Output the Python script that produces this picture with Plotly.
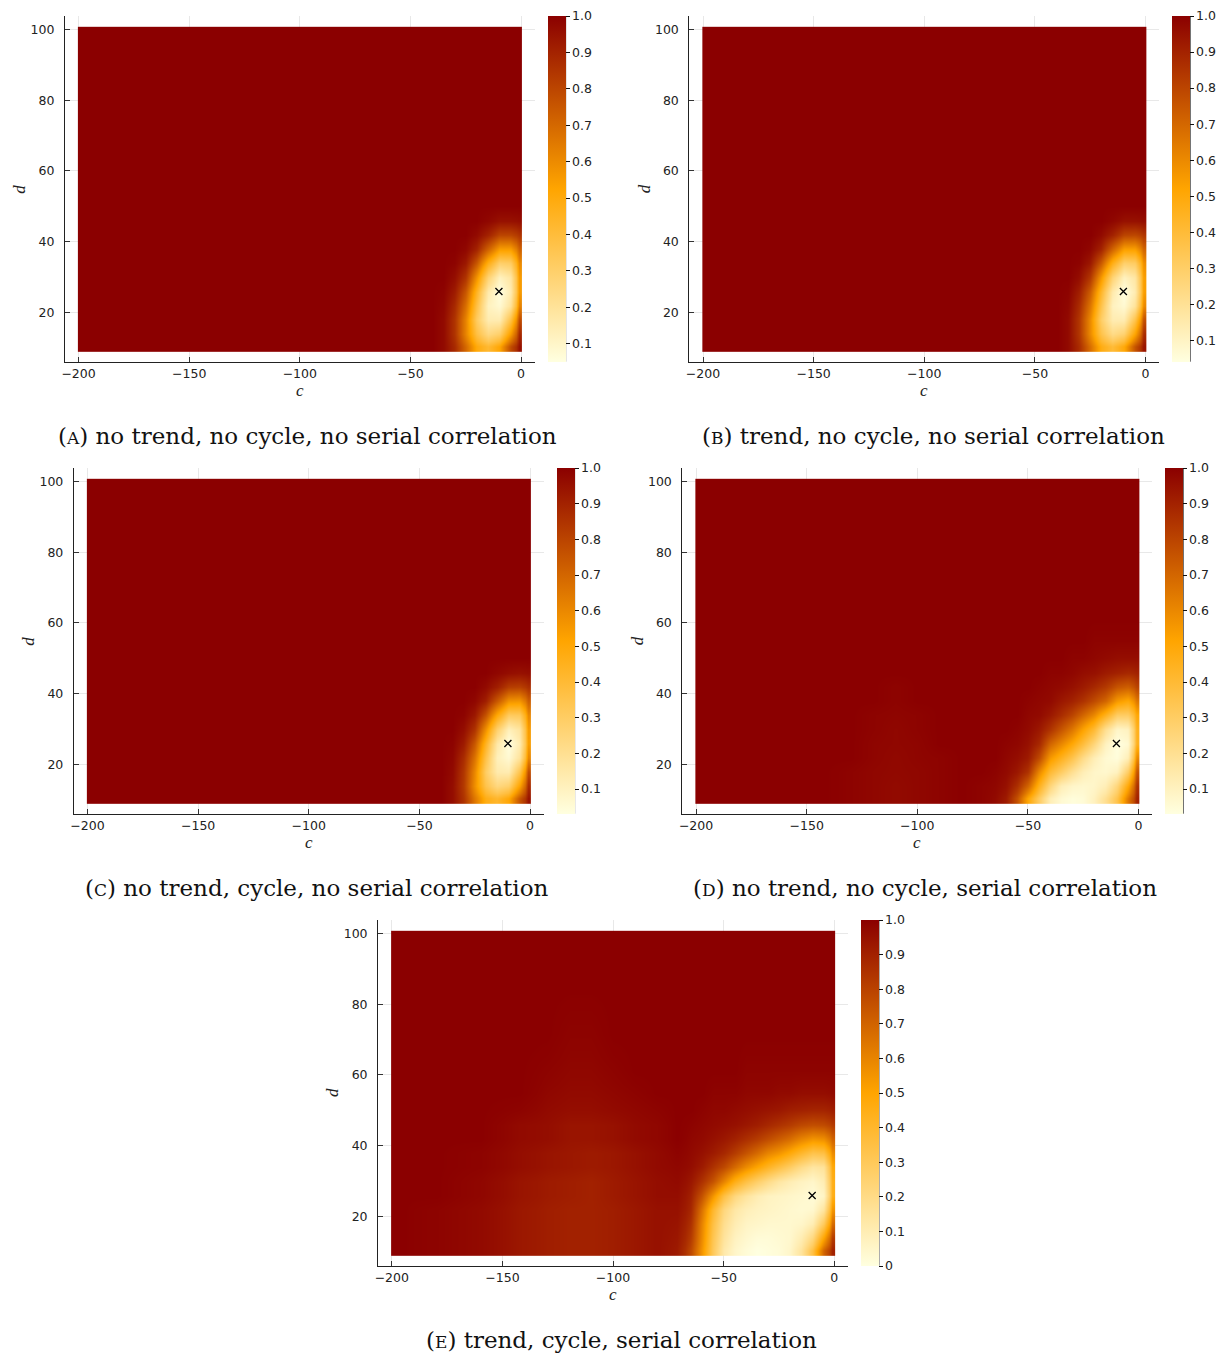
import plotly.graph_objects as go

W, H = 1225, 1357

# ---------------- data ----------------
c_vals = [-200, -180, -160, -140, -130, -120, -110, -100, -90, -80, -70, -65, -60,
          -55, -50, -45, -40, -35, -30, -25, -20, -15, -10, -5, 0]
d_vals = [10, 14, 18, 22, 26, 30, 34, 38, 42, 46, 50, 55, 60, 70, 85, 100]

x_ticks = [-200, -150, -100, -50, 0]
y_ticks = [20, 40, 60, 80, 100]
cb_ticks = [0.1, 0.2, 0.3, 0.4, 0.5, 0.6, 0.7, 0.8, 0.9, 1.0]
cb_labels = ["0.1", "0.2", "0.3", "0.4", "0.5", "0.6", "0.7", "0.8", "0.9", "1.0"]
cb_ticks_e = [0.0, 0.1, 0.2, 0.3, 0.4, 0.5, 0.6, 0.7, 0.8, 0.9, 1.0]
cb_labels_e = ["0", "0.1", "0.2", "0.3", "0.4", "0.5", "0.6", "0.7", "0.8", "0.9", "1.0"]

true_c = [-10]
true_d = [26]

z_a = [
    [1, 1, 1, 1, 1, 1, 1, 1, 1, 1, 1, 1, 1, 1, 1, 1, 1, .97, .88, .70, .50, .42, .52, .78, .95],
    [1, 1, 1, 1, 1, 1, 1, 1, 1, 1, 1, 1, 1, 1, 1, 1, 1, .97, .85, .62, .38, .25, .30, .55, .88],
    [1, 1, 1, 1, 1, 1, 1, 1, 1, 1, 1, 1, 1, 1, 1, 1, 1, .97, .85, .62, .32, .15, .15, .38, .78],
    [1, 1, 1, 1, 1, 1, 1, 1, 1, 1, 1, 1, 1, 1, 1, 1, 1, .98, .88, .68, .38, .12, .08, .20, .62],
    [1, 1, 1, 1, 1, 1, 1, 1, 1, 1, 1, 1, 1, 1, 1, 1, 1, .99, .92, .75, .45, .16, .05, .15, .55],
    [1, 1, 1, 1, 1, 1, 1, 1, 1, 1, 1, 1, 1, 1, 1, 1, 1, 1, .96, .85, .58, .28, .12, .18, .55],
    [1, 1, 1, 1, 1, 1, 1, 1, 1, 1, 1, 1, 1, 1, 1, 1, 1, 1, .99, .93, .75, .48, .30, .32, .60],
    [1, 1, 1, 1, 1, 1, 1, 1, 1, 1, 1, 1, 1, 1, 1, 1, 1, 1, 1, .98, .90, .72, .55, .55, .72],
    [1, 1, 1, 1, 1, 1, 1, 1, 1, 1, 1, 1, 1, 1, 1, 1, 1, 1, 1, 1, .97, .90, .80, .80, .85],
    [1, 1, 1, 1, 1, 1, 1, 1, 1, 1, 1, 1, 1, 1, 1, 1, 1, 1, 1, 1, 1, .98, .95, .95, .96],
    [1, 1, 1, 1, 1, 1, 1, 1, 1, 1, 1, 1, 1, 1, 1, 1, 1, 1, 1, 1, 1, 1, 1, 1, 1],
    [1, 1, 1, 1, 1, 1, 1, 1, 1, 1, 1, 1, 1, 1, 1, 1, 1, 1, 1, 1, 1, 1, 1, 1, 1],
    [1, 1, 1, 1, 1, 1, 1, 1, 1, 1, 1, 1, 1, 1, 1, 1, 1, 1, 1, 1, 1, 1, 1, 1, 1],
    [1, 1, 1, 1, 1, 1, 1, 1, 1, 1, 1, 1, 1, 1, 1, 1, 1, 1, 1, 1, 1, 1, 1, 1, 1],
    [1, 1, 1, 1, 1, 1, 1, 1, 1, 1, 1, 1, 1, 1, 1, 1, 1, 1, 1, 1, 1, 1, 1, 1, 1],
    [1, 1, 1, 1, 1, 1, 1, 1, 1, 1, 1, 1, 1, 1, 1, 1, 1, 1, 1, 1, 1, 1, 1, 1, 1],
]

z_b = [
    [1, 1, 1, 1, 1, 1, 1, 1, 1, 1, 1, 1, 1, 1, 1, 1, 1, .97, .87, .68, .48, .40, .50, .76, .94],
    [1, 1, 1, 1, 1, 1, 1, 1, 1, 1, 1, 1, 1, 1, 1, 1, 1, .97, .84, .60, .36, .23, .28, .52, .87],
    [1, 1, 1, 1, 1, 1, 1, 1, 1, 1, 1, 1, 1, 1, 1, 1, 1, .97, .84, .60, .30, .14, .14, .36, .77],
    [1, 1, 1, 1, 1, 1, 1, 1, 1, 1, 1, 1, 1, 1, 1, 1, 1, .98, .87, .66, .36, .11, .07, .19, .60],
    [1, 1, 1, 1, 1, 1, 1, 1, 1, 1, 1, 1, 1, 1, 1, 1, 1, .99, .91, .73, .43, .15, .04, .14, .54],
    [1, 1, 1, 1, 1, 1, 1, 1, 1, 1, 1, 1, 1, 1, 1, 1, 1, 1, .96, .84, .56, .27, .11, .17, .54],
    [1, 1, 1, 1, 1, 1, 1, 1, 1, 1, 1, 1, 1, 1, 1, 1, 1, 1, .99, .93, .74, .47, .29, .31, .59],
    [1, 1, 1, 1, 1, 1, 1, 1, 1, 1, 1, 1, 1, 1, 1, 1, 1, 1, 1, .98, .90, .71, .54, .54, .71],
    [1, 1, 1, 1, 1, 1, 1, 1, 1, 1, 1, 1, 1, 1, 1, 1, 1, 1, 1, 1, .97, .90, .80, .79, .84],
    [1, 1, 1, 1, 1, 1, 1, 1, 1, 1, 1, 1, 1, 1, 1, 1, 1, 1, 1, 1, 1, .98, .95, .95, .96],
    [1, 1, 1, 1, 1, 1, 1, 1, 1, 1, 1, 1, 1, 1, 1, 1, 1, 1, 1, 1, 1, 1, 1, 1, 1],
    [1, 1, 1, 1, 1, 1, 1, 1, 1, 1, 1, 1, 1, 1, 1, 1, 1, 1, 1, 1, 1, 1, 1, 1, 1],
    [1, 1, 1, 1, 1, 1, 1, 1, 1, 1, 1, 1, 1, 1, 1, 1, 1, 1, 1, 1, 1, 1, 1, 1, 1],
    [1, 1, 1, 1, 1, 1, 1, 1, 1, 1, 1, 1, 1, 1, 1, 1, 1, 1, 1, 1, 1, 1, 1, 1, 1],
    [1, 1, 1, 1, 1, 1, 1, 1, 1, 1, 1, 1, 1, 1, 1, 1, 1, 1, 1, 1, 1, 1, 1, 1, 1],
    [1, 1, 1, 1, 1, 1, 1, 1, 1, 1, 1, 1, 1, 1, 1, 1, 1, 1, 1, 1, 1, 1, 1, 1, 1],
]

z_c = [
    [1, 1, 1, 1, 1, 1, 1, 1, 1, 1, 1, 1, 1, 1, 1, 1, 1, .96, .85, .65, .47, .42, .50, .75, .94],
    [1, 1, 1, 1, 1, 1, 1, 1, 1, 1, 1, 1, 1, 1, 1, 1, 1, .96, .83, .58, .35, .24, .28, .52, .87],
    [1, 1, 1, 1, 1, 1, 1, 1, 1, 1, 1, 1, 1, 1, 1, 1, 1, .97, .84, .60, .30, .14, .13, .35, .77],
    [1, 1, 1, 1, 1, 1, 1, 1, 1, 1, 1, 1, 1, 1, 1, 1, 1, .98, .87, .66, .36, .11, .06, .18, .60],
    [1, 1, 1, 1, 1, 1, 1, 1, 1, 1, 1, 1, 1, 1, 1, 1, 1, .99, .92, .74, .44, .15, .03, .13, .53],
    [1, 1, 1, 1, 1, 1, 1, 1, 1, 1, 1, 1, 1, 1, 1, 1, 1, 1, .96, .85, .58, .28, .11, .17, .54],
    [1, 1, 1, 1, 1, 1, 1, 1, 1, 1, 1, 1, 1, 1, 1, 1, 1, 1, .99, .93, .76, .50, .31, .32, .60],
    [1, 1, 1, 1, 1, 1, 1, 1, 1, 1, 1, 1, 1, 1, 1, 1, 1, 1, 1, .98, .91, .74, .57, .56, .72],
    [1, 1, 1, 1, 1, 1, 1, 1, 1, 1, 1, 1, 1, 1, 1, 1, 1, 1, 1, 1, .97, .91, .82, .81, .86],
    [1, 1, 1, 1, 1, 1, 1, 1, 1, 1, 1, 1, 1, 1, 1, 1, 1, 1, 1, 1, 1, .98, .96, .95, .96],
    [1, 1, 1, 1, 1, 1, 1, 1, 1, 1, 1, 1, 1, 1, 1, 1, 1, 1, 1, 1, 1, 1, 1, 1, 1],
    [1, 1, 1, 1, 1, 1, 1, 1, 1, 1, 1, 1, 1, 1, 1, 1, 1, 1, 1, 1, 1, 1, 1, 1, 1],
    [1, 1, 1, 1, 1, 1, 1, 1, 1, 1, 1, 1, 1, 1, 1, 1, 1, 1, 1, 1, 1, 1, 1, 1, 1],
    [1, 1, 1, 1, 1, 1, 1, 1, 1, 1, 1, 1, 1, 1, 1, 1, 1, 1, 1, 1, 1, 1, 1, 1, 1],
    [1, 1, 1, 1, 1, 1, 1, 1, 1, 1, 1, 1, 1, 1, 1, 1, 1, 1, 1, 1, 1, 1, 1, 1, 1],
    [1, 1, 1, 1, 1, 1, 1, 1, 1, 1, 1, 1, 1, 1, 1, 1, 1, 1, 1, 1, 1, 1, 1, 1, 1],
]

z_d = [
    [1, 1, 1, 1, .99, .98, .97, .98, .99, 1, .99, .97, .92, .76, .50, .30, .12, .06, .04, .05, .10, .20, .35, .65, .90],
    [1, 1, 1, 1, .99, .98, .97, .98, .99, 1, .99, .98, .95, .86, .70, .45, .25, .12, .08, .07, .08, .12, .25, .50, .85],
    [1, 1, 1, 1, .99, .98, .975, .98, .99, 1, 1, .99, .97, .93, .85, .60, .40, .30, .20, .12, .08, .07, .10, .30, .75],
    [1, 1, 1, 1, 1, .985, .975, .985, .99, 1, 1, 1, .98, .96, .92, .78, .55, .45, .35, .22, .12, .06, .04, .12, .60],
    [1, 1, 1, 1, 1, .985, .98, .985, 1, 1, 1, 1, .99, .98, .95, .88, .70, .60, .50, .38, .25, .10, .03, .06, .45],
    [1, 1, 1, 1, 1, .99, .98, .99, 1, 1, 1, 1, 1, .99, .97, .93, .85, .75, .65, .52, .40, .20, .08, .10, .45],
    [1, 1, 1, 1, 1, .99, .985, .99, 1, 1, 1, 1, 1, 1, .98, .97, .93, .87, .80, .70, .60, .45, .30, .30, .50],
    [1, 1, 1, 1, 1, 1, .99, 1, 1, 1, 1, 1, 1, 1, .99, .98, .97, .93, .90, .85, .78, .70, .55, .50, .65],
    [1, 1, 1, 1, 1, 1, .99, 1, 1, 1, 1, 1, 1, 1, 1, .99, .98, .97, .95, .92, .88, .83, .75, .72, .80],
    [1, 1, 1, 1, 1, 1, 1, 1, 1, 1, 1, 1, 1, 1, 1, 1, .99, .99, .98, .96, .95, .92, .90, .88, .90],
    [1, 1, 1, 1, 1, 1, 1, 1, 1, 1, 1, 1, 1, 1, 1, 1, 1, 1, .99, .99, .98, .97, .96, .96, .96],
    [1, 1, 1, 1, 1, 1, 1, 1, 1, 1, 1, 1, 1, 1, 1, 1, 1, 1, 1, 1, .99, .99, .99, .99, .99],
    [1, 1, 1, 1, 1, 1, 1, 1, 1, 1, 1, 1, 1, 1, 1, 1, 1, 1, 1, 1, 1, 1, 1, 1, 1],
    [1, 1, 1, 1, 1, 1, 1, 1, 1, 1, 1, 1, 1, 1, 1, 1, 1, 1, 1, 1, 1, 1, 1, 1, 1],
    [1, 1, 1, 1, 1, 1, 1, 1, 1, 1, 1, 1, 1, 1, 1, 1, 1, 1, 1, 1, 1, 1, 1, 1, 1],
    [1, 1, 1, 1, 1, 1, 1, 1, 1, 1, 1, 1, 1, 1, 1, 1, 1, 1, 1, 1, 1, 1, 1, 1, 1],
]

z_e = [
    [1, .99, .97, .93, .91, .90, .90, .91, .93, .95, .92, .78, .55, .30, .12, .05, .02, .00, .01, .02, .05, .15, .35, .70, .90],
    [1, .99, .97, .93, .91, .90, .90, .91, .93, .95, .93, .82, .58, .32, .15, .07, .04, .02, .02, .03, .04, .10, .22, .50, .82],
    [1, .99, .97, .93, .91, .90, .90, .91, .93, .95, .94, .85, .60, .35, .18, .10, .06, .05, .04, .04, .04, .05, .10, .30, .68],
    [1, .99, .97, .93, .91, .90, .90, .91, .93, .95, .95, .88, .65, .40, .22, .13, .09, .07, .06, .05, .04, .03, .04, .15, .55],
    [1, 1, .98, .94, .92, .91, .90, .92, .94, .96, .96, .90, .75, .55, .35, .22, .15, .10, .07, .06, .05, .04, .02, .06, .45],
    [1, 1, .98, .94, .92, .91, .90, .92, .94, .96, .97, .93, .85, .75, .60, .45, .35, .27, .20, .14, .10, .07, .05, .10, .45],
    [1, 1, .99, .96, .94, .93, .92, .93, .95, .97, .98, .96, .92, .85, .78, .68, .58, .50, .42, .35, .28, .20, .14, .16, .48],
    [1, 1, .99, .96, .94, .93, .92, .93, .95, .97, .99, .97, .95, .92, .88, .82, .75, .68, .60, .55, .48, .40, .33, .35, .58],
    [1, 1, 1, .97, .96, .94, .94, .95, .97, .98, 1, .98, .97, .95, .93, .90, .86, .82, .77, .72, .67, .60, .55, .57, .70],
    [1, 1, 1, .97, .96, .94, .94, .95, .97, .98, 1, .99, .98, .97, .96, .95, .93, .91, .88, .85, .82, .78, .76, .77, .82],
    [1, 1, 1, .99, .97, .96, .96, .97, .98, .99, 1, 1, .99, .98, .98, .97, .96, .95, .94, .93, .91, .90, .89, .89, .91],
    [1, 1, 1, 1, .98, .97, .97, .98, .99, 1, 1, 1, 1, .99, .99, .99, .98, .98, .98, .97, .97, .96, .96, .96, .97],
    [1, 1, 1, 1, .99, .98, .98, .99, 1, 1, 1, 1, 1, 1, 1, 1, .99, .99, .99, .99, .99, .99, .99, .99, .99],
    [1, 1, 1, 1, 1, .99, .99, 1, 1, 1, 1, 1, 1, 1, 1, 1, 1, 1, 1, 1, 1, 1, 1, 1, 1],
    [1, 1, 1, 1, 1, 1, 1, 1, 1, 1, 1, 1, 1, 1, 1, 1, 1, 1, 1, 1, 1, 1, 1, 1, 1],
    [1, 1, 1, 1, 1, 1, 1, 1, 1, 1, 1, 1, 1, 1, 1, 1, 1, 1, 1, 1, 1, 1, 1, 1, 1],
]

letters = ["A", "B", "C", "D", "E"]
caption_texts = [
    "no trend, no cycle, no serial correlation",
    "trend, no cycle, no serial correlation",
    "no trend, cycle, no serial correlation",
    "no trend, no cycle, serial correlation",
    "trend, cycle, serial correlation",
]

# ---------------- layout helpers ----------------
def cell_edges(centers, lo, hi):
    mids = [(a + b) / 2 for a, b in zip(centers[:-1], centers[1:])]
    return [lo] + mids + [hi]

c_edges = cell_edges(c_vals, -200.3, 0.3)
d_edges = cell_edges(d_vals, 8.9, 100.7)

heat_scale = [[0.0, "#FFFFE0"], [0.5, "#FFA500"], [1.0, "#8B0000"]]

# panel offsets (px) relative to panel A
offsets = [(0, 0), (626, 0), (9, 452), (619, 452), (314, 904)]
BOX_X0, BOX_X1, BOX_Y0, BOX_Y1 = 62, 533.3, 16, 361.7
caption_pos = [(305.5, 436), (933, 436), (314.5, 888), (924.5, 888), (620.5, 1340)]

panels = [z_a, z_b, z_c, z_d, z_e]

TICKFONT = dict(family="DejaVu Sans", size=12.5, color="#222222")

fig = go.Figure()
shapes = []
annotations = []
layout_axes = {}

for i, (z, (ox, oy)) in enumerate(zip(panels, offsets)):
    n = i + 1
    xa = "x" if n == 1 else f"x{n}"
    ya = "y" if n == 1 else f"y{n}"
    x0, x1 = BOX_X0 + ox, BOX_X1 + ox
    y0, y1 = BOX_Y0 + oy, BOX_Y1 + oy
    is_e = (i == 4)
    cb = dict(
        x=(x0 + 484) / W, xanchor="left", xpad=0,
        y=1 - y0 / H, yanchor="top", ypad=0,
        len=y1 - y0, lenmode="pixels",
        thickness=18, thicknessmode="pixels",
        outlinewidth=0,
        ticks="outside", ticklen=4, tickwidth=1, tickcolor="#111111",
        tickvals=cb_ticks_e if is_e else cb_ticks,
        ticktext=cb_labels_e if is_e else cb_labels,
        tickfont=TICKFONT,
    )
    fig.add_trace(go.Heatmap(
        x=c_edges, y=d_edges, z=z, zsmooth="best",
        colorscale=heat_scale, colorbar=cb,
        xaxis=xa, yaxis=ya, hoverinfo="skip",
    ))
    fig.add_trace(go.Scatter(
        x=true_c, y=true_d, mode="markers",
        marker=dict(symbol="x-thin", size=7, line=dict(width=1.3, color="black")),
        xaxis=xa, yaxis=ya, showlegend=False, hoverinfo="skip",
    ))
    common = dict(
        showline=True, linecolor="#222222", linewidth=1,
        ticks="inside", ticklen=5, tickwidth=1, tickcolor="#333333",
        showgrid=True, gridcolor="rgba(0,0,0,0.09)", gridwidth=1,
        zeroline=False, tickfont=TICKFONT, fixedrange=True,
    )
    layout_axes["xaxis" if n == 1 else f"xaxis{n}"] = dict(
        domain=[x0 / W, x1 / W], range=[-206.2, 6.3], tickvals=x_ticks,
        anchor=ya, **common)
    layout_axes["yaxis" if n == 1 else f"yaxis{n}"] = dict(
        domain=[1 - y1 / H, 1 - y0 / H], range=[6.17, 103.75], tickvals=y_ticks,
        anchor=xa, ticklabelstandoff=7, **common)
    # colorbar right-hand axis line
    cbx = x0 + 484 + 18
    shapes.append(dict(type="line", xref="paper", yref="paper",
                       x0=cbx / W, x1=cbx / W, y0=1 - y0 / H, y1=1 - y1 / H,
                       line=dict(color="#111111", width=1)))
    # axis titles
    annotations.append(dict(text="<i>c</i>", xref="paper", yref="paper",
                            x=(x0 + x1) / 2 / W, y=1 - (y1 + 29) / H,
                            xanchor="center", yanchor="middle", showarrow=False,
                            font=dict(family="Liberation Serif", size=17, color="#222222")))
    annotations.append(dict(text="<i>d</i>", xref="paper", yref="paper",
                            x=(x0 - 45) / W, y=1 - (y0 + y1) / 2 / H,
                            xanchor="center", yanchor="middle", showarrow=False, textangle=-90,
                            font=dict(family="Liberation Serif", size=17, color="#222222")))
    # caption
    cx, cy = caption_pos[i]
    annotations.append(dict(
        text=f"(<span style='font-size:17px'>{letters[i]}</span>) {caption_texts[i]}",
        xref="paper", yref="paper", x=cx / W, y=1 - cy / H,
        xanchor="center", yanchor="middle", showarrow=False,
        font=dict(family="DejaVu Serif", size=23, color="#111111")))

fig.update_layout(
    width=W, height=H, margin=dict(l=0, r=0, t=0, b=0),
    paper_bgcolor="white", plot_bgcolor="white",
    showlegend=False, shapes=shapes, annotations=annotations,
    **layout_axes,
)

fig.write_html("out.html")
